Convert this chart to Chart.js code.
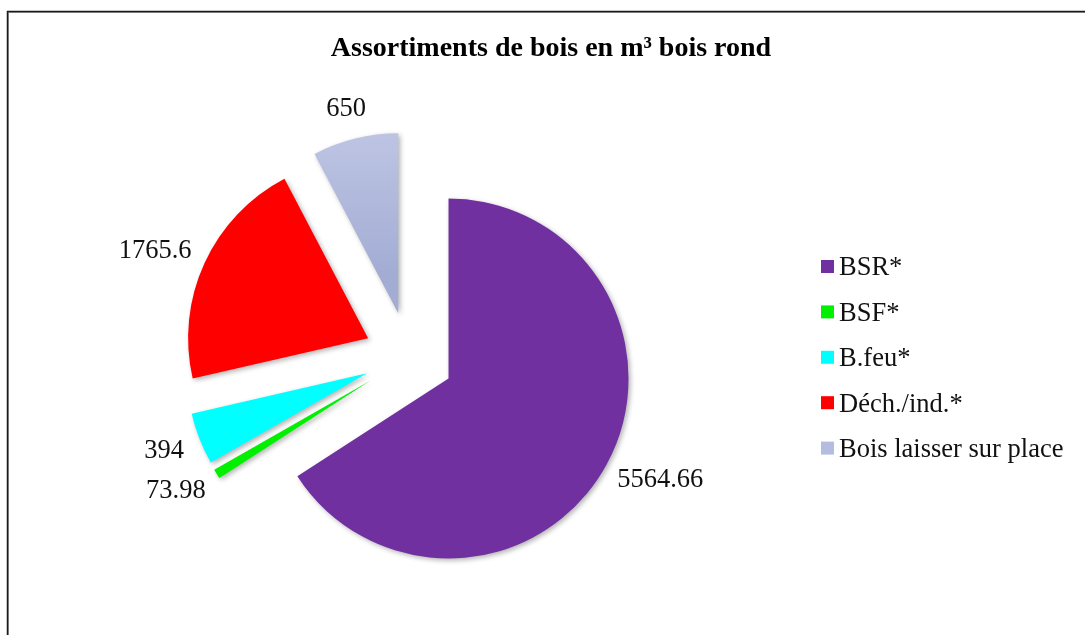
<!DOCTYPE html>
<html>
<head>
<meta charset="utf-8">
<script src="https://cdn.jsdelivr.net/npm/chart.js@4/dist/chart.umd.min.js"></script>
<style>
  html, body { margin: 0; padding: 0; background: #fff; }
  #wrap { width: 1085px; height: 635px; }
</style>
</head>
<body>
<div id="wrap"><canvas id="c" width="1085" height="635"></canvas></div>
<script>
const categories = ['BSR*', 'BSF*', 'B.feu*', 'Déch./ind.*', 'Bois laisser sur place'];
const volumes = [5564.66, 73.98, 394, 1765.6, 650];
const valueLabels = ['5564.66', '73.98', '394', '1765.6', '650'];
const sliceColors = ['#7030A0', '#00F000', '#00FFFF', '#FF0000', '#B4BDE0'];
const titleText = 'Assortiments de bois en m³ bois rond';

const EXPLODE = 45;      // px translation of every slice (Excel-style explosion)
const RADIUS = 180;
const SERIF = '"Liberation Serif", "Times New Roman", serif';

// Excel-style explosion: translate every arc along its bisector without
// changing its radius or angles.
const baseArcDraw = Chart.ArcElement.prototype.draw;
Chart.ArcElement.prototype.draw = function (ctx) {
  const h = (this.startAngle + this.endAngle) / 2;
  ctx.save();
  ctx.translate(Math.cos(h) * EXPLODE, Math.sin(h) * EXPLODE);
  baseArcDraw.call(this, ctx);
  ctx.restore();
};

function colorFor(ctx) {
  const i = ctx.dataIndex;
  if (i === 4) {
    const ca = ctx.chart.chartArea;
    if (!ca) return sliceColors[i];
    const cy = (ca.top + ca.bottom) / 2;
    const g = ctx.chart.ctx.createLinearGradient(0, cy - RADIUS - EXPLODE, 0, cy - EXPLODE * 0.9);
    g.addColorStop(0, '#C6CCE8');
    g.addColorStop(1, '#A3ADD4');
    return g;
  }
  return sliceColors[i];
}

const decor = {
  id: 'decor',
  beforeDraw(chart) {
    const c = chart.ctx;
    c.save();
    c.strokeStyle = '#9a9a9a';
    c.lineWidth = 1;
    c.strokeRect(8.5, 12.5, 1200, 800);
    c.strokeStyle = '#1a1a1a';
    c.lineWidth = 1.5;
    c.strokeRect(7.5, 11.5, 1200, 800);
    c.fillStyle = '#000';
    c.font = 'bold 28px ' + SERIF;
    c.textAlign = 'center';
    c.textBaseline = 'alphabetic';
    c.fillText(titleText, 551, 56);
    c.restore();
  },
  beforeDatasetsDraw(chart) {
    const c = chart.ctx;
    c.save();
    c.shadowColor = 'rgba(0,0,0,0.3)';
    c.shadowBlur = 5;
    c.shadowOffsetX = 2;
    c.shadowOffsetY = 2;
  },
  afterDatasetsDraw(chart) {
    const c = chart.ctx;
    c.restore();
    c.save();
    const meta = chart.getDatasetMeta(0);
    c.font = '26.5px ' + SERIF;
    c.fillStyle = '#111';
    c.textAlign = 'center';
    c.textBaseline = 'middle';
    meta.data.forEach((arc, i) => {
      const h = (arc.startAngle + arc.endAngle) / 2;
      const D = arc.outerRadius + EXPLODE + 18;
      const ux = Math.cos(h), uy = Math.sin(h);
      const txt = valueLabels[i];
      const w = c.measureText(txt).width;
      const x = arc.x + ux * D + ux * w / 2;
      const y = arc.y + uy * D + uy * 13;
      c.fillText(txt, x, y + 1);
    });
    const lx = 821, ly0 = 266.5, step = 45.4, box = 13;
    meta.data.forEach((arc, i) => {
      const y = ly0 + i * step;
      c.fillStyle = i === 4 ? '#B4BDE0' : sliceColors[i];
      c.fillRect(lx, y - box / 2, box, box);
      c.fillStyle = '#111';
      c.textAlign = 'left';
      c.fillText(categories[i], lx + 18, y + 2);
    });
    c.restore();
  }
};

new Chart(document.getElementById('c'), {
  type: 'pie',
  data: {
    labels: categories,
    datasets: [{
      data: volumes,
      backgroundColor: colorFor,
      borderWidth: 0,
      offset: 0,
      clip: false
    }]
  },
  options: {
    responsive: false,
    animation: false,
    events: [],
    radius: RADIUS,
    layout: { padding: { left: 40, right: 307, top: 100, bottom: 21 } },
    plugins: {
      legend: { display: false },
      tooltip: { enabled: false },
      title: { display: false }
    }
  },
  plugins: [decor]
});
</script>
</body>
</html>
